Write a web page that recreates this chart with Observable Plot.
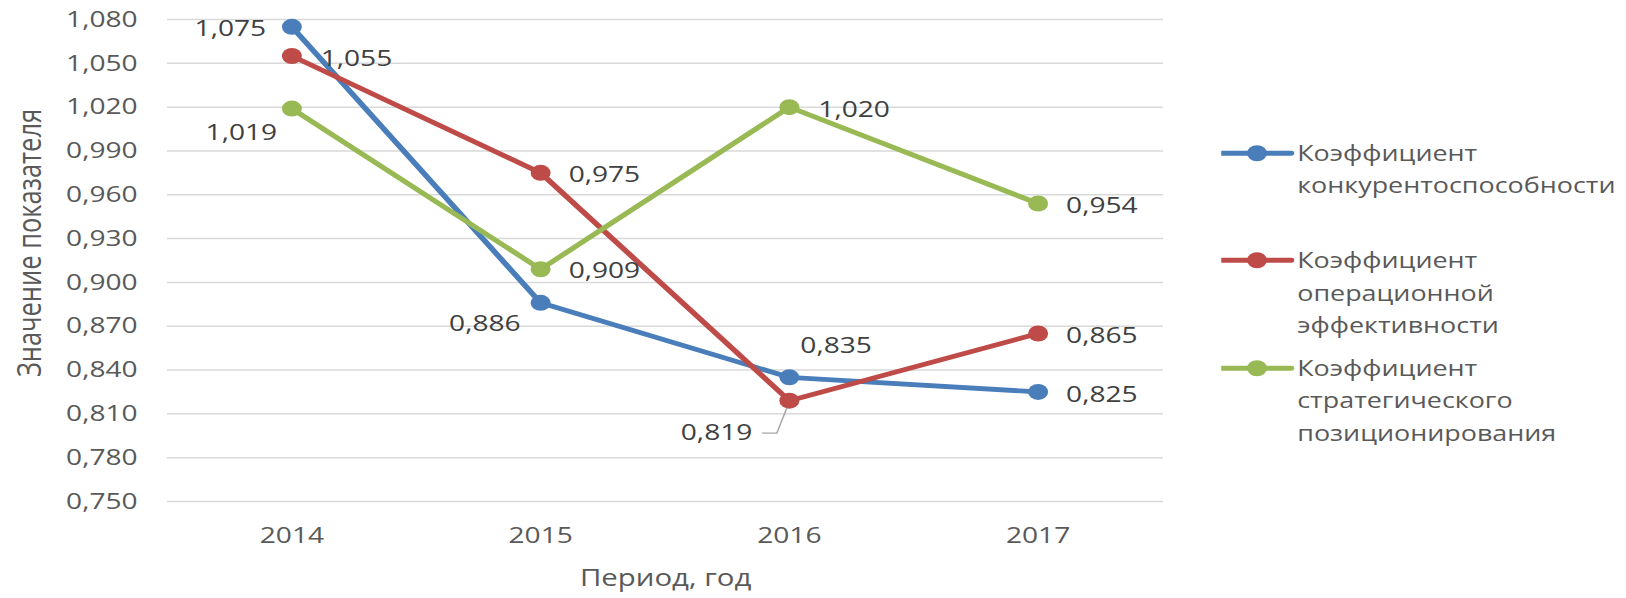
<!DOCTYPE html>
<html><head><meta charset="utf-8">
<script src="https://cdn.jsdelivr.net/npm/d3@7"></script>
<script src="https://cdn.jsdelivr.net/npm/@observablehq/plot@0.6"></script>
<style>
html,body{margin:0;padding:0;background:#fff;}
#wrap{position:relative;width:1300.8px;height:598px;transform:scaleX(1.25);transform-origin:0 0;font-family:"Open Sans",sans-serif;}
#chart svg{display:block}
#legend{position:absolute;left:977.4px;top:0;width:320px;height:598px}
.item{position:absolute;left:0;}
.item svg{position:absolute;left:0;top:0}
.item .txt{position:absolute;left:60.4px;top:0;white-space:nowrap;font-size:21.5px;line-height:32.5px;color:#595959}
</style>
</head><body>
<div id="wrap"><div id="chart"></div><div id="legend"></div></div>
<script>
const years = ["2014", "2015", "2016", "2017"];
const seriesNames = [
  "Коэффициент конкурентоспособности",
  "Коэффициент операционной эффективности",
  "Коэффициент стратегического позиционирования"
];
const competitiveness = [1.075, 0.886, 0.835, 0.825];
const operational = [1.055, 0.975, 0.819, 0.865];
const strategic = [1.019, 0.909, 1.020, 0.954];
const yTicks = [0.75, 0.78, 0.81, 0.84, 0.87, 0.90, 0.93, 0.96, 0.99, 1.02, 1.05, 1.08];
const colors = ["#4A7EBB", "#BE4B48", "#98B954"];
const yTitle = "Значение показателя";
const xTitle = "Период, год";

// label placement (layout only)
const labelPlacement = [
  {s: 0, y: "2014", anchor: "end", dx: -20.6, dy: 1.7},
  {s: 1, y: "2014", anchor: "start", dx: 23, dy: 2.8},
  {s: 2, y: "2014", anchor: "end", dx: -11.8, dy: 24.4},
  {s: 0, y: "2015", anchor: "end", dx: -16, dy: 21},
  {s: 1, y: "2015", anchor: "start", dx: 22.4, dy: 1.8},
  {s: 2, y: "2015", anchor: "start", dx: 22.4, dy: 2},
  {s: 0, y: "2016", anchor: "start", dx: 8.8, dy: -32},
  {s: 1, y: "2016", anchor: "end", dx: -29.6, dy: 32.3},
  {s: 2, y: "2016", anchor: "start", dx: 23.2, dy: 2.4},
  {s: 0, y: "2017", anchor: "start", dx: 22.4, dy: 2.5},
  {s: 1, y: "2017", anchor: "start", dx: 22.4, dy: 2.5},
  {s: 2, y: "2017", anchor: "start", dx: 22.4, dy: 2.5}
];

const values = [competitiveness, operational, strategic];
const rows = [];
values.forEach((arr, si) => arr.forEach((v, i) => rows.push({series: seriesNames[si], s: si, year: years[i], value: v})));

const fmt = v => d3.format(".3f")(v).replace(".", ",");

const leaderSymbol = {draw(ctx) { ctx.moveTo(-22, 32.5); ctx.lineTo(-10, 32.5); ctx.lineTo(-2, 7); }};
const leaderRows = rows.filter(r => r.s === 1 && r.year === "2016");

const labelMarks = labelPlacement.map(p => {
  const d = rows.filter(r => r.s === p.s && r.year === p.y);
  return Plot.text(d, {x: "year", y: "value", text: r => fmt(r.value), textAnchor: p.anchor, dx: p.dx, dy: p.dy,
    fill: "#404040", fontSize: 22.5, lineAnchor: "middle"});
});

const chart = Plot.plot({
  width: 1300.8, height: 598,
  marginLeft: 133.6, marginRight: 370.4, marginTop: 19, marginBottom: 97,
  x: {type: "point", domain: years, padding: 0.5},
  y: {domain: [0.75, 1.08]},
  color: {domain: seriesNames, range: colors},
  style: {fontFamily: "'Open Sans', sans-serif", fontSize: "22px", color: "#595959", background: "white"},
  marks: [
    Plot.gridY(yTicks, {stroke: "#d9d9d9", strokeOpacity: 1, strokeWidth: 1.5}),
    Plot.axisY(yTicks, {tickSize: 0, tickPadding: 24, tickFormat: fmt, fontSize: 22.5, fill: "#595959", label: null}),
    Plot.axisX({tickSize: 0, tickPadding: 26, fontSize: 22.5, fill: "#595959", label: null}),
    Plot.line(rows, {x: "year", y: "value", z: "series", stroke: "series", strokeWidth: 4.8}),
    Plot.dot(rows, {x: "year", y: "value", fill: "series", r: 8}),
    Plot.dot(leaderRows, {x: "year", y: "value", symbol: leaderSymbol, stroke: "#a6a6a6", fill: "none", strokeWidth: 1.2}),
    ...labelMarks,
    Plot.text([yTitle], {frameAnchor: "left", textAnchor: "middle", rotate: -90, dx: -109.6, dy: -17.5, fill: "#595959", fontSize: 25.5, lineAnchor: "middle"}),
    Plot.text([xTitle], {frameAnchor: "bottom", textAnchor: "middle", dy: 85, lineAnchor: "bottom", fill: "#595959", fontSize: 23.5})
  ]
});
document.getElementById("chart").appendChild(chart);

// legend
const legend = d3.select("#legend");
seriesNames.forEach((name, i) => {
  const item = legend.append("div").attr("class", "item").style("top", (136.75 + i * 107.5) + "px");
  const svg = item.append("svg").attr("width", 60.4).attr("height", 32.5);
  svg.append("line").attr("x1", 0).attr("x2", 56).attr("y1", 16.25).attr("y2", 16.25)
    .attr("stroke", colors[i]).attr("stroke-width", 4.8).attr("stroke-linecap", "round");
  svg.append("circle").attr("cx", 28.6).attr("cy", 16.25).attr("r", 8).attr("fill", colors[i]);
  item.append("div").attr("class", "txt").html(name.split(" ").join("<br>"));
});
</script>
</body></html>
